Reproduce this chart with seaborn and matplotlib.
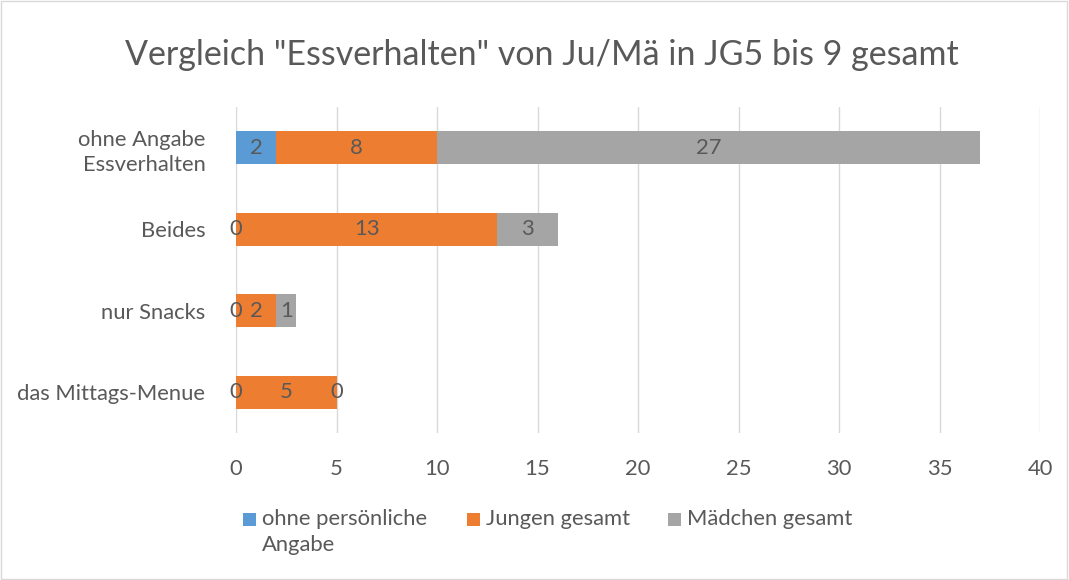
import matplotlib
matplotlib.use("Agg")
import matplotlib.pyplot as plt
import seaborn as sns
import pandas as pd
from matplotlib.patches import Rectangle

categories = ["ohne Angabe\nEssverhalten", "Beides", "nur Snacks", "das Mittags-Menue"]
ohne_angabe = [2, 0, 0, 0]
jungen = [8, 13, 2, 5]
maedchen = [27, 3, 1, 0]
series_names = ["ohne persönliche\nAngabe", "Jungen gesamt", "Mädchen gesamt"]
colors = ["#5B9BD5", "#ED7D31", "#A5A5A5"]
xticks = [0, 5, 10, 15, 20, 25, 30, 35, 40]

sns.set_theme(style="white")
plt.rcParams['font.family'] = ['Lato', 'DejaVu Sans']
txt = "#595959"
fs = 15.8

fig = plt.figure(figsize=(10.69, 5.8), dpi=100)
ax = fig.add_axes([0.2208, 0.2534, 0.7521, 0.5621])

series = [ohne_angabe, jungen, maedchen]
cum = []
run = [0] * len(categories)
for s in series:
    run = [a + b for a, b in zip(run, s)]
    cum.append(list(run))

for i in reversed(range(3)):
    df = pd.DataFrame({"cat": categories, "val": cum[i]})
    sns.barplot(data=df, x="val", y="cat", orient="h", color=colors[i],
                width=0.41, saturation=1, ax=ax, zorder=3, linewidth=0)

for i in range(3):
    start = [c - s for c, s in zip(cum[i], series[i])]
    for j, v in enumerate(series[i]):
        ax.text(start[j] + v / 2, j, str(v), ha="center", va="center",
                fontsize=fs, color=txt, zorder=5)

ax.set_xlim(0, 40)
ax.set_ylim(3.5, -0.5)
ax.set_xticks(xticks)
ax.xaxis.grid(True, color="#D9D9D9", linewidth=1, zorder=0)
ax.set_axisbelow(True)
for sp in ax.spines.values():
    sp.set_visible(False)
ax.set_xlabel("")
ax.set_ylabel("")
ax.tick_params(axis="x", labelsize=fs, colors=txt, length=0, pad=19)
ax.tick_params(axis="y", labelsize=fs, colors=txt, length=0, pad=22)
for lbl in ax.get_yticklabels():
    lbl.set_horizontalalignment("right")
    lbl.set_multialignment("right")
    lbl.set_linespacing(1.3)

fig.suptitle('Vergleich "Essverhalten" von Ju/Mä in JG5 bis 9 gesamt',
             va="center", x=0.507, fontsize=24.5, color=txt)
fig._suptitle.set_y(1 - 55 / 580)

# legend drawn manually (top-aligned, wrapped like reference)
leg_x = [243, 467, 668]
for xpx, c, name in zip(leg_x, colors, series_names):
    fig.add_artist(Rectangle((xpx / 1069, 1 - 526 / 580), 13 / 1069, 13 / 580,
                             transform=fig.transFigure, facecolor=c, edgecolor="none"))
    fig.text((xpx + 19) / 1069, 1 - 509 / 580, name, ha="left", va="top",
             fontsize=fs, color=txt, linespacing=1.4)

fig.add_artist(Rectangle((0.001, 0.002), 0.997, 0.996, transform=fig.transFigure,
                         fill=False, edgecolor="#D9D9D9", linewidth=1))
fig.savefig("out.png", dpi=100)
